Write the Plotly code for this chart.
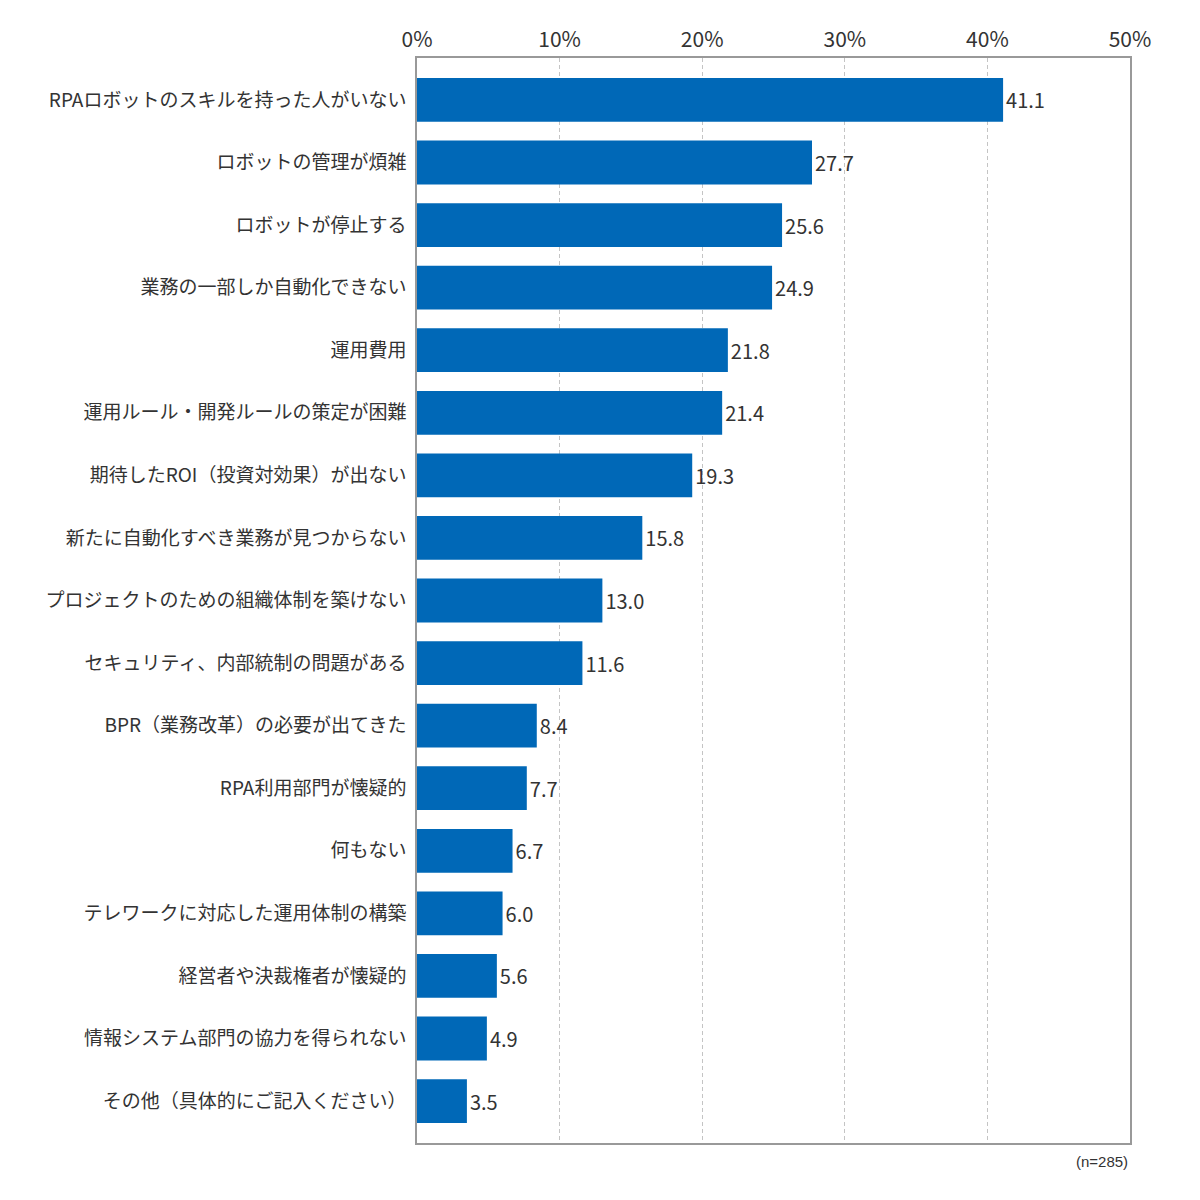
import plotly.graph_objects as go

labels = [
    "RPAロボットのスキルを持った人がいない",
    "ロボットの管理が煩雑",
    "ロボットが停止する",
    "業務の一部しか自動化できない",
    "運用費用",
    "運用ルール・開発ルールの策定が困難",
    "期待したROI（投資対効果）が出ない",
    "新たに自動化すべき業務が見つからない",
    "プロジェクトのための組織体制を築けない",
    "セキュリティ、内部統制の問題がある",
    "BPR（業務改革）の必要が出てきた",
    "RPA利用部門が懐疑的",
    "何もない",
    "テレワークに対応した運用体制の構築",
    "経営者や決裁権者が懐疑的",
    "情報システム部門の協力を得られない",
    "その他（具体的にご記入ください）",
]
values = [41.1, 27.7, 25.6, 24.9, 21.8, 21.4, 19.3, 15.8, 13.0, 11.6, 8.4, 7.7, 6.7, 6.0, 5.6, 4.9, 3.5]
x_ticks = [0, 10, 20, 30, 40, 50]

font = "Noto Sans CJK JP"

fig = go.Figure(go.Bar(
    x=values, y=labels, orientation="h",
    marker=dict(color="#0068b7", line=dict(width=0)),
    text=[f"{v:.1f}" for v in values],
    textposition="outside",
    textfont=dict(size=20, color="#333333", family=font),
    cliponaxis=False,
    width=0.7,
))

fig.update_layout(
    width=1200, height=1200,
    margin=dict(l=409, r=78, t=50, b=65),
    paper_bgcolor="white", plot_bgcolor="white",
    font=dict(family=font, color="#333333"),
    showlegend=False,
    xaxis=dict(
        range=[0, 50], side="top", automargin=False,
        tickvals=x_ticks, ticktext=[f"{t}%" for t in x_ticks],
        tickfont=dict(size=21, color="#333333"),
        showgrid=True, gridcolor="#c4c4c4", griddash="4px,3px", gridwidth=1,
        showline=True, linecolor="#999999", linewidth=1.5, mirror=True,
        zeroline=False, ticks="", ticklabelstandoff=1,
    ),
    yaxis=dict(
        type="category", autorange=False, range=[16.67, -0.67], automargin=False,
        tickfont=dict(size=19, color="#333333"),
        showline=True, linecolor="#999999", linewidth=1.5, mirror=True,
        ticks="", ticklabelstandoff=5, showgrid=False,
    ),
    annotations=[dict(
        text="(n=285)", x=1, y=0, xref="paper", yref="paper",
        xanchor="right", yanchor="top", yshift=-8, showarrow=False,
        font=dict(size=15, color="#333333", family="Liberation Sans"),
    )],
)

fig.write_html("out.html")
